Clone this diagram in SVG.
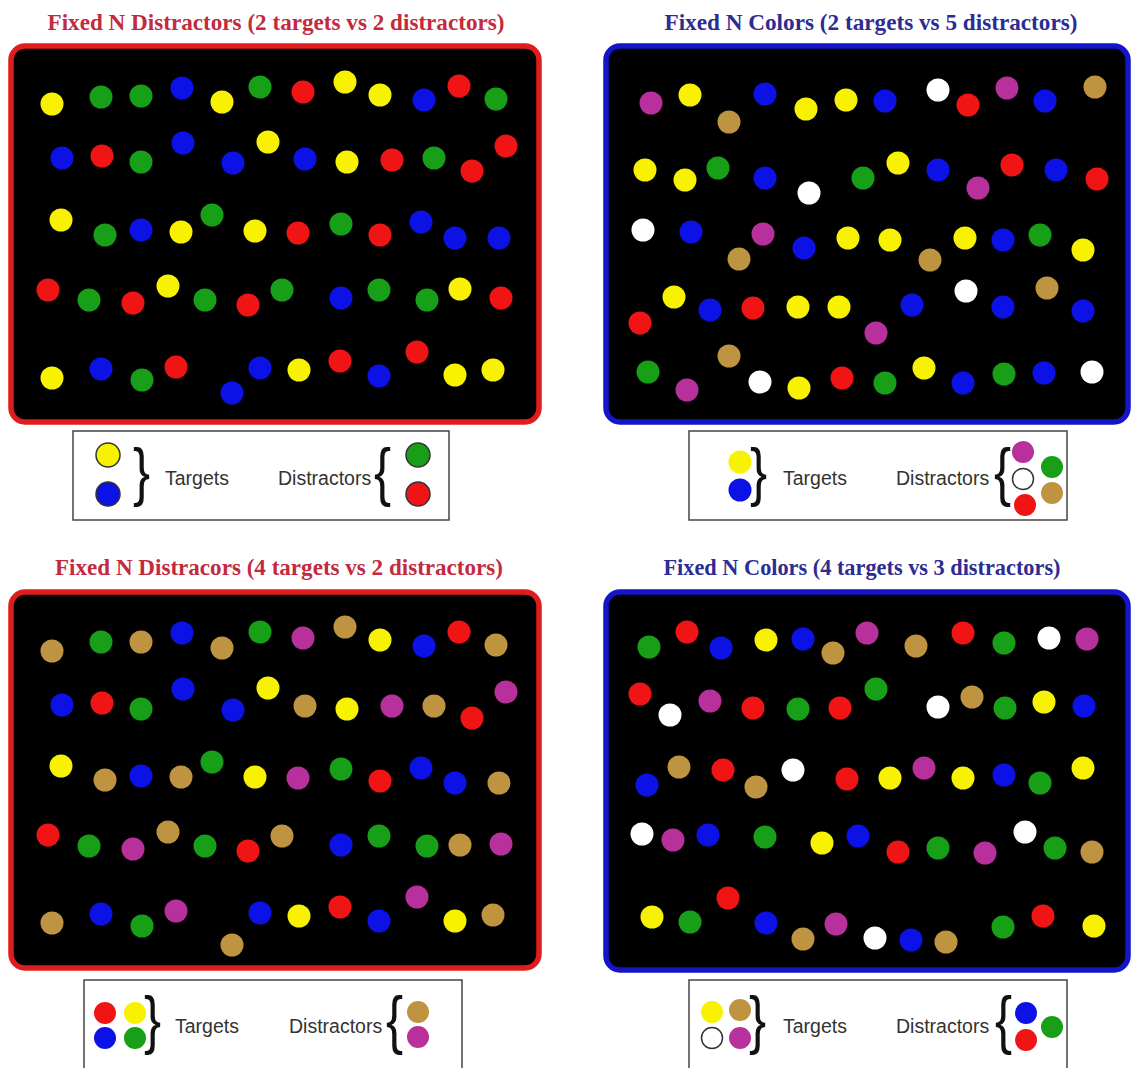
<svg xmlns="http://www.w3.org/2000/svg" width="1132" height="1068" viewBox="0 0 1132 1068">
<style>
.bg{fill:#ffffff}
.tr{font-family:"Liberation Serif",serif;font-size:23px;font-weight:bold;fill:#c42a3e;text-anchor:middle}
.tb{font-family:"Liberation Serif",serif;font-size:23px;font-weight:bold;fill:#2c2c92;text-anchor:middle}
.fr{fill:#000;stroke:#e01c1c;stroke-width:5.5}
.fb{fill:#000;stroke:#1414c8;stroke-width:5.5}
.lg{fill:#fff;stroke:#444;stroke-width:1.5}
.lt{font-family:"Liberation Sans",sans-serif;font-size:19.5px;fill:#333}
.br{font-family:"Liberation Sans",sans-serif;font-size:64px;fill:#111}
.Y{fill:#f8f200}.G{fill:#17a017}.B{fill:#0c12e6}.R{fill:#f01414}.T{fill:#bf9440}.M{fill:#b8309c}.W{fill:#fff}
.o{stroke:#333;stroke-width:1.5}
</style>
<rect class="bg" x="0" y="0" width="1132" height="1068"/>

<g id="panel1">
<text class="tr" x="276" y="30" textLength="457" lengthAdjust="spacingAndGlyphs">Fixed N Distractors (2 targets vs 2 distractors)</text>
<rect class="fr" x="11" y="46" width="528" height="376" rx="14"/>
<g>
<circle class="Y" cx="52" cy="104" r="11.5"/><circle class="G" cx="101" cy="97" r="11.5"/><circle class="G" cx="141" cy="96" r="11.5"/><circle class="B" cx="182" cy="88" r="11.5"/><circle class="Y" cx="222" cy="102" r="11.5"/><circle class="G" cx="260" cy="87" r="11.5"/><circle class="R" cx="303" cy="92" r="11.5"/><circle class="Y" cx="345" cy="82" r="11.5"/><circle class="Y" cx="380" cy="95" r="11.5"/><circle class="B" cx="424" cy="100" r="11.5"/><circle class="R" cx="459" cy="86" r="11.5"/><circle class="G" cx="496" cy="99" r="11.5"/>
<circle class="B" cx="62" cy="158" r="11.5"/><circle class="R" cx="102" cy="156" r="11.5"/><circle class="G" cx="141" cy="162" r="11.5"/><circle class="B" cx="183" cy="143" r="11.5"/><circle class="B" cx="233" cy="163" r="11.5"/><circle class="Y" cx="268" cy="142" r="11.5"/><circle class="B" cx="305" cy="159" r="11.5"/><circle class="Y" cx="347" cy="162" r="11.5"/><circle class="R" cx="392" cy="160" r="11.5"/><circle class="G" cx="434" cy="158" r="11.5"/><circle class="R" cx="472" cy="171" r="11.5"/><circle class="R" cx="506" cy="146" r="11.5"/>
<circle class="Y" cx="61" cy="220" r="11.5"/><circle class="G" cx="105" cy="235" r="11.5"/><circle class="B" cx="141" cy="230" r="11.5"/><circle class="Y" cx="181" cy="232" r="11.5"/><circle class="G" cx="212" cy="215" r="11.5"/><circle class="Y" cx="255" cy="231" r="11.5"/><circle class="R" cx="298" cy="233" r="11.5"/><circle class="G" cx="341" cy="224" r="11.5"/><circle class="R" cx="380" cy="235" r="11.5"/><circle class="B" cx="421" cy="222" r="11.5"/><circle class="B" cx="455" cy="238" r="11.5"/><circle class="B" cx="499" cy="238" r="11.5"/>
<circle class="R" cx="48" cy="290" r="11.5"/><circle class="G" cx="89" cy="300" r="11.5"/><circle class="R" cx="133" cy="303" r="11.5"/><circle class="Y" cx="168" cy="286" r="11.5"/><circle class="G" cx="205" cy="300" r="11.5"/><circle class="R" cx="248" cy="305" r="11.5"/><circle class="G" cx="282" cy="290" r="11.5"/><circle class="B" cx="341" cy="298" r="11.5"/><circle class="G" cx="379" cy="290" r="11.5"/><circle class="G" cx="427" cy="300" r="11.5"/><circle class="Y" cx="460" cy="289" r="11.5"/><circle class="R" cx="501" cy="298" r="11.5"/>
<circle class="Y" cx="52" cy="378" r="11.5"/><circle class="B" cx="101" cy="369" r="11.5"/><circle class="G" cx="142" cy="380" r="11.5"/><circle class="R" cx="176" cy="367" r="11.5"/><circle class="B" cx="232" cy="393" r="11.5"/><circle class="B" cx="260" cy="368" r="11.5"/><circle class="Y" cx="299" cy="370" r="11.5"/><circle class="R" cx="340" cy="361" r="11.5"/><circle class="B" cx="379" cy="376" r="11.5"/><circle class="R" cx="417" cy="352" r="11.5"/><circle class="Y" cx="455" cy="375" r="11.5"/><circle class="Y" cx="493" cy="370" r="11.5"/>
</g>
</g>

<g id="legend1">
<rect class="lg" x="73" y="431" width="376" height="89"/>
<circle class="Y o" cx="108" cy="455" r="12"/><circle class="B o" cx="108" cy="494" r="12"/>
<text class="br" x="133" y="494" transform="translate(133 0) scale(0.8 1) translate(-133 0)">}</text>
<text class="lt" x="165" y="485">Targets</text>
<text class="lt" x="278" y="485">Distractors</text>
<text class="br" x="374" y="494" transform="translate(374 0) scale(0.8 1) translate(-374 0)">{</text>
<circle class="G o" cx="418" cy="455" r="12"/><circle class="R o" cx="418" cy="494" r="12"/>
</g>

<g id="panel2">
<text class="tb" x="871" y="30" textLength="413" lengthAdjust="spacingAndGlyphs">Fixed N Colors (2 targets vs 5 distractors)</text>
<rect class="fb" x="606" y="46" width="522" height="376" rx="14"/>
<g>
<circle class="M" cx="651" cy="103" r="11.5"/><circle class="Y" cx="690" cy="95" r="11.5"/><circle class="T" cx="729" cy="122" r="11.5"/><circle class="B" cx="765" cy="94" r="11.5"/><circle class="Y" cx="806" cy="109" r="11.5"/><circle class="Y" cx="846" cy="100" r="11.5"/><circle class="B" cx="885" cy="101" r="11.5"/><circle class="W" cx="938" cy="90" r="11.5"/><circle class="R" cx="968" cy="105" r="11.5"/><circle class="M" cx="1007" cy="88" r="11.5"/><circle class="B" cx="1045" cy="101" r="11.5"/><circle class="T" cx="1095" cy="87" r="11.5"/>
<circle class="Y" cx="645" cy="170" r="11.5"/><circle class="Y" cx="685" cy="180" r="11.5"/><circle class="G" cx="718" cy="168" r="11.5"/><circle class="B" cx="765" cy="178" r="11.5"/><circle class="W" cx="809" cy="193" r="11.5"/><circle class="G" cx="863" cy="178" r="11.5"/><circle class="Y" cx="898" cy="163" r="11.5"/><circle class="B" cx="938" cy="170" r="11.5"/><circle class="M" cx="978" cy="188" r="11.5"/><circle class="R" cx="1012" cy="165" r="11.5"/><circle class="B" cx="1056" cy="170" r="11.5"/><circle class="R" cx="1097" cy="179" r="11.5"/>
<circle class="W" cx="643" cy="230" r="11.5"/><circle class="B" cx="691" cy="232" r="11.5"/><circle class="M" cx="763" cy="234" r="11.5"/><circle class="T" cx="739" cy="259" r="11.5"/><circle class="B" cx="804" cy="248" r="11.5"/><circle class="Y" cx="848" cy="238" r="11.5"/><circle class="Y" cx="890" cy="240" r="11.5"/><circle class="T" cx="930" cy="260" r="11.5"/><circle class="Y" cx="965" cy="238" r="11.5"/><circle class="B" cx="1003" cy="240" r="11.5"/><circle class="G" cx="1040" cy="235" r="11.5"/><circle class="Y" cx="1083" cy="250" r="11.5"/>
<circle class="R" cx="640" cy="323" r="11.5"/><circle class="Y" cx="674" cy="297" r="11.5"/><circle class="B" cx="710" cy="310" r="11.5"/><circle class="R" cx="753" cy="308" r="11.5"/><circle class="Y" cx="798" cy="307" r="11.5"/><circle class="Y" cx="839" cy="307" r="11.5"/><circle class="M" cx="876" cy="333" r="11.5"/><circle class="B" cx="912" cy="305" r="11.5"/><circle class="W" cx="966" cy="291" r="11.5"/><circle class="B" cx="1003" cy="307" r="11.5"/><circle class="T" cx="1047" cy="288" r="11.5"/><circle class="B" cx="1083" cy="311" r="11.5"/>
<circle class="G" cx="648" cy="372" r="11.5"/><circle class="M" cx="687" cy="390" r="11.5"/><circle class="T" cx="729" cy="356" r="11.5"/><circle class="W" cx="760" cy="382" r="11.5"/><circle class="Y" cx="799" cy="388" r="11.5"/><circle class="R" cx="842" cy="378" r="11.5"/><circle class="G" cx="885" cy="383" r="11.5"/><circle class="Y" cx="924" cy="368" r="11.5"/><circle class="B" cx="963" cy="383" r="11.5"/><circle class="G" cx="1004" cy="374" r="11.5"/><circle class="B" cx="1044" cy="373" r="11.5"/><circle class="W" cx="1092" cy="372" r="11.5"/>
</g>
</g>

<g id="legend2">
<rect class="lg" x="689" y="431" width="378" height="89"/>
<circle class="Y" cx="740" cy="462" r="11.5"/><circle class="B" cx="740" cy="490" r="11.5"/>
<text class="br" x="750" y="494" transform="translate(750 0) scale(0.8 1) translate(-750 0)">}</text>
<text class="lt" x="783" y="485">Targets</text>
<text class="lt" x="896" y="485">Distractors</text>
<text class="br" x="994" y="494" transform="translate(994 0) scale(0.8 1) translate(-994 0)">{</text>
<circle class="M" cx="1023" cy="452" r="11"/><circle class="W o" cx="1023" cy="479" r="10.5"/><circle class="R" cx="1025" cy="505" r="11"/>
<circle class="G" cx="1052" cy="467" r="11"/><circle class="T" cx="1052" cy="493" r="11"/>
</g>

<g id="panel3">
<text class="tr" x="279" y="575" textLength="448" lengthAdjust="spacingAndGlyphs">Fixed N Distracors (4 targets vs 2 distractors)</text>
<rect class="fr" x="11" y="592" width="528" height="376" rx="14"/>
<g>
<circle class="T" cx="52" cy="651" r="11.5"/><circle class="G" cx="101" cy="642" r="11.5"/><circle class="T" cx="141" cy="642" r="11.5"/><circle class="B" cx="182" cy="633" r="11.5"/><circle class="T" cx="222" cy="648" r="11.5"/><circle class="G" cx="260" cy="632" r="11.5"/><circle class="M" cx="303" cy="638" r="11.5"/><circle class="T" cx="345" cy="627" r="11.5"/><circle class="Y" cx="380" cy="640" r="11.5"/><circle class="B" cx="424" cy="646" r="11.5"/><circle class="R" cx="459" cy="632" r="11.5"/><circle class="T" cx="496" cy="645" r="11.5"/>
<circle class="B" cx="62" cy="705" r="11.5"/><circle class="R" cx="102" cy="703" r="11.5"/><circle class="G" cx="141" cy="709" r="11.5"/><circle class="B" cx="183" cy="689" r="11.5"/><circle class="B" cx="233" cy="710" r="11.5"/><circle class="Y" cx="268" cy="688" r="11.5"/><circle class="T" cx="305" cy="706" r="11.5"/><circle class="Y" cx="347" cy="709" r="11.5"/><circle class="M" cx="392" cy="706" r="11.5"/><circle class="T" cx="434" cy="706" r="11.5"/><circle class="R" cx="472" cy="718" r="11.5"/><circle class="M" cx="506" cy="692" r="11.5"/>
<circle class="Y" cx="61" cy="766" r="11.5"/><circle class="T" cx="105" cy="780" r="11.5"/><circle class="B" cx="141" cy="776" r="11.5"/><circle class="T" cx="181" cy="777" r="11.5"/><circle class="G" cx="212" cy="762" r="11.5"/><circle class="Y" cx="255" cy="777" r="11.5"/><circle class="M" cx="298" cy="778" r="11.5"/><circle class="G" cx="341" cy="769" r="11.5"/><circle class="R" cx="380" cy="781" r="11.5"/><circle class="B" cx="421" cy="768" r="11.5"/><circle class="B" cx="455" cy="783" r="11.5"/><circle class="T" cx="499" cy="783" r="11.5"/>
<circle class="R" cx="48" cy="835" r="11.5"/><circle class="G" cx="89" cy="846" r="11.5"/><circle class="M" cx="133" cy="849" r="11.5"/><circle class="T" cx="168" cy="832" r="11.5"/><circle class="G" cx="205" cy="846" r="11.5"/><circle class="R" cx="248" cy="851" r="11.5"/><circle class="T" cx="282" cy="836" r="11.5"/><circle class="B" cx="341" cy="845" r="11.5"/><circle class="G" cx="379" cy="836" r="11.5"/><circle class="G" cx="427" cy="846" r="11.5"/><circle class="T" cx="460" cy="845" r="11.5"/><circle class="M" cx="501" cy="844" r="11.5"/>
<circle class="T" cx="52" cy="923" r="11.5"/><circle class="B" cx="101" cy="914" r="11.5"/><circle class="G" cx="142" cy="926" r="11.5"/><circle class="M" cx="176" cy="911" r="11.5"/><circle class="T" cx="232" cy="945" r="11.5"/><circle class="B" cx="260" cy="913" r="11.5"/><circle class="Y" cx="299" cy="916" r="11.5"/><circle class="R" cx="340" cy="907" r="11.5"/><circle class="B" cx="379" cy="921" r="11.5"/><circle class="M" cx="417" cy="897" r="11.5"/><circle class="Y" cx="455" cy="921" r="11.5"/><circle class="T" cx="493" cy="915" r="11.5"/>
</g>
</g>

<g id="legend3">
<rect class="lg" x="84" y="980" width="378" height="90"/>
<circle class="R" cx="105" cy="1013" r="11"/><circle class="Y" cx="135" cy="1013" r="11"/><circle class="B" cx="105" cy="1038" r="11"/><circle class="G" cx="135" cy="1038" r="11"/>
<text class="br" x="144" y="1042" transform="translate(144 0) scale(0.8 1) translate(-144 0)">}</text>
<text class="lt" x="175" y="1033">Targets</text>
<text class="lt" x="289" y="1033">Distractors</text>
<text class="br" x="386" y="1042" transform="translate(386 0) scale(0.8 1) translate(-386 0)">{</text>
<circle class="T" cx="418" cy="1012" r="11"/><circle class="M" cx="418" cy="1037" r="11"/>
</g>

<g id="panel4">
<text class="tb" x="862" y="575" textLength="397" lengthAdjust="spacingAndGlyphs">Fixed N Colors (4 targets vs 3 distractors)</text>
<rect class="fb" x="606" y="592" width="522" height="378" rx="14"/>
<g>
<circle class="G" cx="649" cy="647" r="11.5"/><circle class="R" cx="687" cy="632" r="11.5"/><circle class="B" cx="721" cy="648" r="11.5"/><circle class="Y" cx="766" cy="640" r="11.5"/><circle class="B" cx="803" cy="639" r="11.5"/><circle class="T" cx="833" cy="653" r="11.5"/><circle class="M" cx="867" cy="633" r="11.5"/><circle class="T" cx="916" cy="646" r="11.5"/><circle class="R" cx="963" cy="633" r="11.5"/><circle class="G" cx="1004" cy="643" r="11.5"/><circle class="W" cx="1049" cy="638" r="11.5"/><circle class="M" cx="1087" cy="639" r="11.5"/>
<circle class="R" cx="640" cy="694" r="11.5"/><circle class="W" cx="670" cy="715" r="11.5"/><circle class="M" cx="710" cy="701" r="11.5"/><circle class="R" cx="753" cy="708" r="11.5"/><circle class="G" cx="798" cy="709" r="11.5"/><circle class="R" cx="840" cy="708" r="11.5"/><circle class="G" cx="876" cy="689" r="11.5"/><circle class="W" cx="938" cy="707" r="11.5"/><circle class="T" cx="972" cy="697" r="11.5"/><circle class="G" cx="1005" cy="708" r="11.5"/><circle class="Y" cx="1044" cy="702" r="11.5"/><circle class="B" cx="1084" cy="706" r="11.5"/>
<circle class="B" cx="647" cy="785" r="11.5"/><circle class="T" cx="679" cy="767" r="11.5"/><circle class="R" cx="723" cy="770" r="11.5"/><circle class="T" cx="756" cy="787" r="11.5"/><circle class="W" cx="793" cy="770" r="11.5"/><circle class="R" cx="847" cy="779" r="11.5"/><circle class="Y" cx="890" cy="778" r="11.5"/><circle class="M" cx="924" cy="768" r="11.5"/><circle class="Y" cx="963" cy="778" r="11.5"/><circle class="B" cx="1004" cy="775" r="11.5"/><circle class="G" cx="1040" cy="783" r="11.5"/><circle class="Y" cx="1083" cy="768" r="11.5"/>
<circle class="W" cx="642" cy="834" r="11.5"/><circle class="M" cx="673" cy="840" r="11.5"/><circle class="B" cx="708" cy="835" r="11.5"/><circle class="G" cx="765" cy="837" r="11.5"/><circle class="Y" cx="822" cy="843" r="11.5"/><circle class="B" cx="858" cy="836" r="11.5"/><circle class="R" cx="898" cy="852" r="11.5"/><circle class="G" cx="938" cy="848" r="11.5"/><circle class="M" cx="985" cy="853" r="11.5"/><circle class="W" cx="1025" cy="832" r="11.5"/><circle class="G" cx="1055" cy="848" r="11.5"/><circle class="T" cx="1092" cy="852" r="11.5"/>
<circle class="Y" cx="652" cy="917" r="11.5"/><circle class="G" cx="690" cy="922" r="11.5"/><circle class="R" cx="728" cy="898" r="11.5"/><circle class="B" cx="766" cy="923" r="11.5"/><circle class="T" cx="803" cy="939" r="11.5"/><circle class="M" cx="836" cy="924" r="11.5"/><circle class="W" cx="875" cy="938" r="11.5"/><circle class="B" cx="911" cy="940" r="11.5"/><circle class="T" cx="946" cy="942" r="11.5"/><circle class="G" cx="1003" cy="927" r="11.5"/><circle class="R" cx="1043" cy="916" r="11.5"/><circle class="Y" cx="1094" cy="926" r="11.5"/>
</g>
</g>

<g id="legend4">
<rect class="lg" x="689" y="980" width="378" height="90"/>
<circle class="Y" cx="712" cy="1012" r="11"/><circle class="T" cx="740" cy="1010" r="11"/><circle class="W o" cx="712" cy="1038" r="10.5"/><circle class="M" cx="740" cy="1038" r="11"/>
<text class="br" x="749" y="1042" transform="translate(749 0) scale(0.8 1) translate(-749 0)">}</text>
<text class="lt" x="783" y="1033">Targets</text>
<text class="lt" x="896" y="1033">Distractors</text>
<text class="br" x="995" y="1042" transform="translate(995 0) scale(0.8 1) translate(-995 0)">{</text>
<circle class="B" cx="1026" cy="1013" r="11"/><circle class="R" cx="1026" cy="1040" r="11"/><circle class="G" cx="1052" cy="1027" r="11"/>
</g>
</svg>
